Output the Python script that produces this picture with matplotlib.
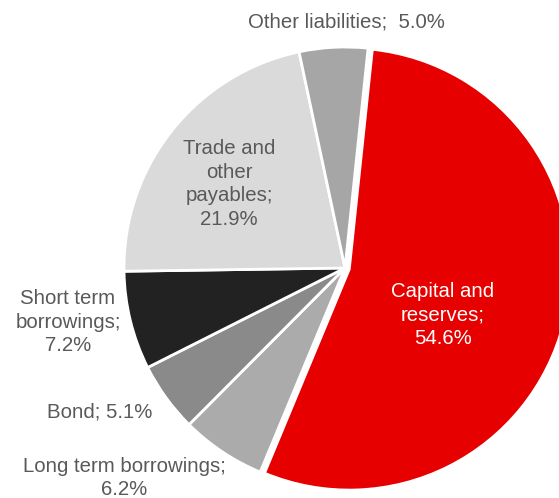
import matplotlib.pyplot as plt

plt.rcParams['font.family'] = ['Liberation Sans', 'DejaVu Sans']

# slices, clockwise from the top
categories = ['Capital and\nreserves;', 'Long term borrowings;', 'Bond;',
              'Short term\nborrowings;', 'Trade and\nother\npayables;',
              'Other liabilities;']
shares = [54.6, 6.2, 5.1, 7.2, 21.9, 5.0]
colors = ['#e60000', '#ababab', '#8a8a8a', '#222222', '#dadada', '#a6a6a6']
explode = [0.02, 0, 0, 0, 0, 0]

# label text, centre in pixels, colour
label_text = ['Capital and\nreserves;\n54.6%', 'Long term borrowings;\n6.2%',
              'Bond; 5.1%', 'Short term\nborrowings;\n7.2%',
              'Trade and\nother\npayables;\n21.9%', 'Other liabilities;  5.0%']
label_pos = [(443, 315), (124, 478), (100, 412), (68, 322), (229, 184), (346, 22)]
label_col = ['white', '#595959', '#595959', '#595959', '#595959', '#595959']

W, H = 559, 498
cx, cy, r = 345, 268, 221

fig = plt.figure(figsize=(W / 100, H / 100), dpi=100)
ax = fig.add_axes([0, 0, 1, 1])
ax.axis('off')

ax.pie(shares, colors=colors, explode=explode, startangle=84,
       counterclock=False, radius=1, center=(0, 0), frame=False,
       wedgeprops=dict(edgecolor='white', linewidth=2))
ax.set_xlim(-cx / r, (W - cx) / r)
ax.set_ylim((cy - H) / r, cy / r)
ax.set_aspect('auto')

for txt, (px, py), c in zip(label_text, label_pos, label_col):
    ax.text((px - cx) / r, (cy - py) / r, txt, ha='center', va='center',
            color=c, fontsize=14.7, linespacing=1.3)

fig.savefig('out.png', dpi=100)
